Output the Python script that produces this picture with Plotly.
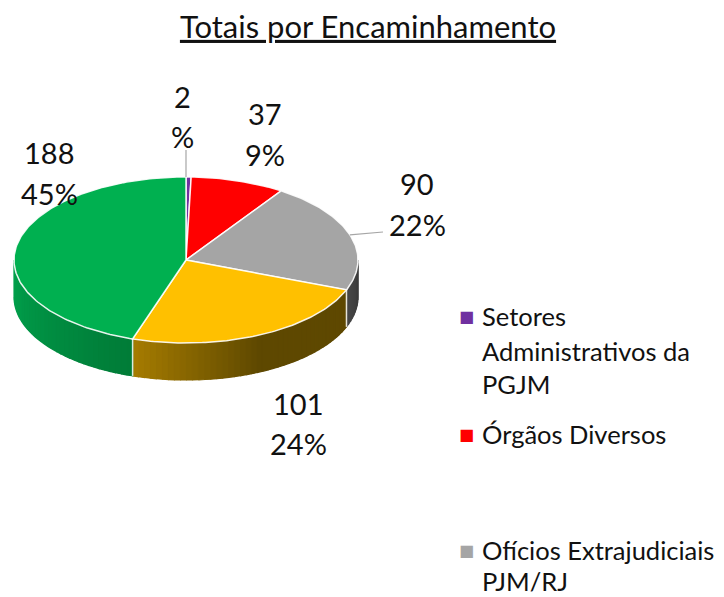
import numpy as np
import plotly.graph_objects as go

# ---------------- data ----------------
title_text = "Totais por Encaminhamento"
values = [2, 37, 90, 101, 188]
pct_labels = ["%", "9%", "22%", "24%", "45%"]
legend_labels = [
    ["Setores", "Administrativos da", "PGJM"],
    ["Órgãos Diversos"],
    ["Ofícios Extrajudiciais", "PJM/RJ"],
]

# ---------------- style ----------------
top_colors = ["#7030A0", "#FF0000", "#A5A5A5", "#FFC000", "#00B050"]
wall_light = ["#5a2680", "#b30000", "#474747", "#A67C00", "#00A24D"]
wall_dark = ["#4a1f6a", "#900000", "#3a3a3a", "#5E4800", "#007B37"]
wall_reach = [1.0, 1.0, 1.0, 0.5, 1.0]
FONT = "Lato, Carlito, Calibri, 'Open Sans', sans-serif"

W, H = 724, 597
OFF = 8  # page body margin: axis units == window pixels
cx, cy, rx, ry, depth = 186, 260, 172, 83, 37

total = sum(values)
cum = np.concatenate([[0], np.cumsum(values)]) / total * 360.0


def pt(t_deg, dy=0.0):
    t = np.radians(t_deg)
    return cx + rx * np.sin(t), cy - ry * np.cos(t) + dy


def hex2rgb(h):
    h = h.lstrip("#")
    return np.array([int(h[i:i + 2], 16) for i in (0, 2, 4)], float)


def mix(c1, c2, f):
    a, b = hex2rgb(c1), hex2rgb(c2)
    c = a + (b - a) * f
    return "rgb(%d,%d,%d)" % tuple(np.round(c))


def wall_poly(ta, tb, npts=5):
    ts = np.linspace(ta, tb, npts)
    xs_top, ys_top = pt(ts)
    xs_bot, ys_bot = pt(ts[::-1], depth)
    return np.concatenate([xs_top, xs_bot]), np.concatenate([ys_top, ys_bot])


fig = go.Figure()

# ---- side walls (front half: 90..270 deg) ----
for i in range(len(values)):
    a0, a1 = max(cum[i], 90), min(cum[i + 1], 270)
    if a1 <= a0:
        continue
    # base polygon (hides seams between gradient strips)
    bx, by = wall_poly(a1, a0, 60)
    base_col = mix(wall_light[i], wall_dark[i], 0.5)
    fig.add_trace(go.Scatter(x=bx, y=by, fill="toself", fillcolor=base_col, mode="lines",
                             line=dict(width=0, color=base_col),
                             hoverinfo="skip", showlegend=False))
    n = max(2, int((a1 - a0) / 2))
    edges = np.linspace(a1, a0, n + 1)  # from left (large t) to right
    for k in range(n):
        xs, ys = wall_poly(edges[k], edges[k + 1])
        frac = (k + 0.5) / n
        f = min(1.0, frac / wall_reach[i])
        col = mix(wall_light[i], wall_dark[i], f)
        fig.add_trace(go.Scatter(x=xs, y=ys, fill="toself", fillcolor=col, mode="lines",
                                 line=dict(width=1.2, color=col),
                                 hoverinfo="skip", showlegend=False))

# wall boundary lines between slices
for b in cum[1:-1]:
    if 90 < b < 270:
        x0, y0 = pt(b)
        x1, y1 = pt(b, depth)
        fig.add_trace(go.Scatter(x=[x0, x1], y=[y0, y1], mode="lines",
                                 line=dict(color="rgba(255,255,255,0.85)", width=1.5),
                                 hoverinfo="skip", showlegend=False))

# ---- top faces ----
for i in range(len(values)):
    ts = np.linspace(cum[i], cum[i + 1], max(3, int(values[i] / total * 360)))
    xs, ys = pt(ts)
    fig.add_trace(go.Scatter(
        x=np.concatenate([[cx], xs, [cx]]),
        y=np.concatenate([[cy], ys, [cy]]),
        fill="toself", fillcolor=top_colors[i], mode="lines",
        line=dict(color="rgba(255,255,255,0.9)", width=1.5),
        hoverinfo="skip", showlegend=False, name=str(values[i])))

# ---- data labels ----
label_pos = [(182, 96, 136), (265, 113, 154), (417, 183, 224), (298, 403, 443), (49, 152, 193)]
annotations = []
for i, (lx, ly1, ly2) in enumerate(label_pos):
    for txt, ly in ((str(values[i]), ly1), (pct_labels[i], ly2)):
        annotations.append(dict(x=lx, y=ly, xref="x", yref="y", text=txt, showarrow=False,
                                xanchor="center", yanchor="middle",
                                font=dict(family=FONT, size=29, color="#111111")))

# leader lines
leaders = [(0, (186, 150)), (2, (383, 232))]
for i, (ex, ey) in leaders:
    mid = (cum[i] + cum[i + 1]) / 2
    sx, sy = pt(mid)
    if i == 0:
        sx = ex
    fig.add_trace(go.Scatter(x=[sx, ex], y=[sy, ey], mode="lines",
                             line=dict(color="#A6A6A6", width=1.2),
                             hoverinfo="skip", showlegend=False))

# ---- legend (manual) ----
leg_x_marker, leg_x_text = 466, 480
leg_rows = [[316, 351, 384], [434], [550, 581]]
for j, lines in enumerate(legend_labels):
    rows = leg_rows[j]
    annotations.append(dict(x=leg_x_marker, y=rows[0], xref="x", yref="y", text="■",
                            showarrow=False, xanchor="center", yanchor="middle",
                            font=dict(family="DejaVu Sans", size=16, color=top_colors[j])))
    for line, ly in zip(lines, rows):
        annotations.append(dict(x=leg_x_text, y=ly, xref="x", yref="y", text=line,
                                showarrow=False, xanchor="left", yanchor="middle",
                                font=dict(family=FONT, size=25.5, color="#111111")))

fig.update_layout(
    width=W, height=H, margin=dict(l=0, r=0, t=0, b=0),
    paper_bgcolor="white", plot_bgcolor="white",
    showlegend=False,
    title=dict(text="<u>" + title_text + "</u>", x=(368 - OFF) / W, xanchor="center",
               y=1 - (27 - OFF) / H, yanchor="middle", yref="container",
               font=dict(family=FONT, size=31, color="#111111")),
    annotations=annotations,
)
fig.update_xaxes(range=[OFF, W + OFF], visible=False, fixedrange=True)
fig.update_yaxes(range=[H + OFF, OFF], visible=False, fixedrange=True)

fig.write_html("out.html")
